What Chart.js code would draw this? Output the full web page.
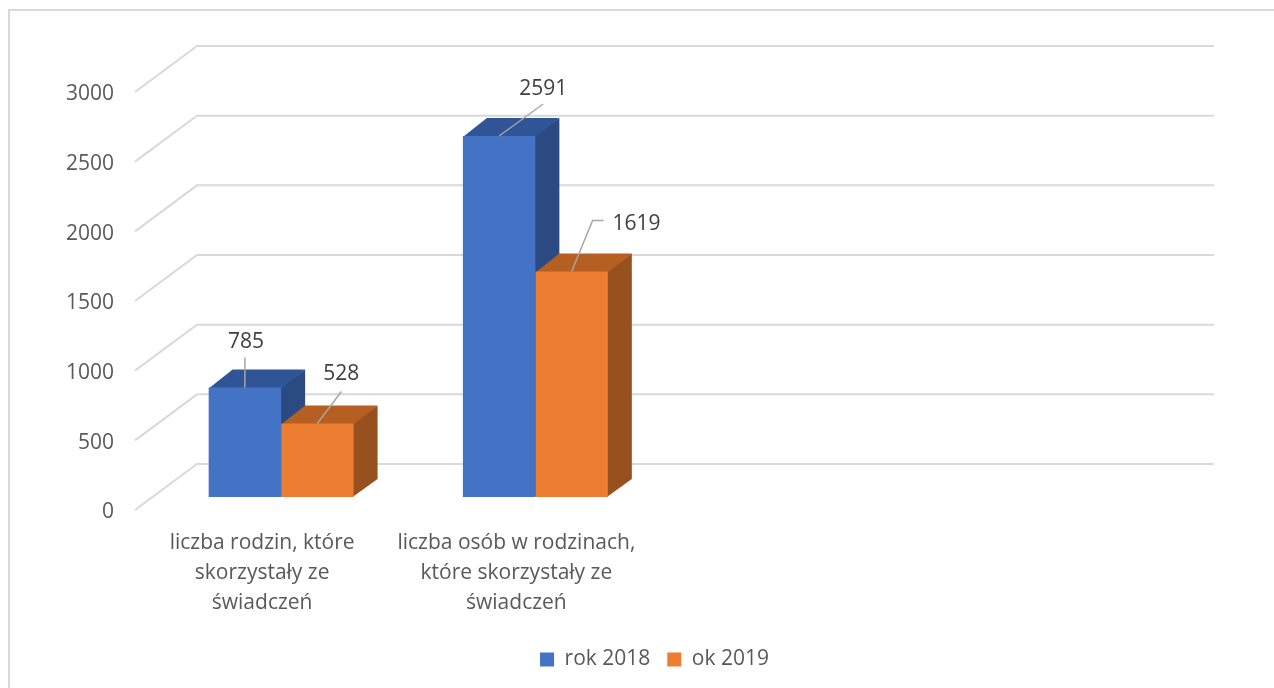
<!DOCTYPE html>
<html lang="pl">
<head>
<meta charset="UTF-8">
<title>Świadczenia 2018-2019</title>
<script src="https://cdn.jsdelivr.net/npm/chart.js"></script>
<style>
    html, body { margin: 0; padding: 0; background: #fff; overflow: hidden; }
    canvas { display: block; }
</style>
</head>
<body>
<canvas id="chart" width="1274" height="688"></canvas>
<script>
// data
const categories = [['liczba rodzin, które', 'skorzystały ze', 'świadczeń'], ['liczba osób w rodzinach,', 'które skorzystały ze', 'świadczeń'], '', ''];
const seriesNames = ['rok 2018', 'ok 2019'];
const values2018 = [785, 2591, null, null];
const values2019 = [528, 1619, null, null];
const yTicks = [0, 500, 1000, 1500, 2000, 2500, 3000];

const frontColors = ['#4472c4', '#ed7d31'];
const sideColors = ['#2b4a82', '#97511e'];
const topColors = ['#2f5597', '#b55f22'];
const textColor = '#595959';
const font = { family: '"Open Sans"', size: 21 };

// 3d look
const wallDepth = { x: 62, y: -46 };
const barShift = { x: 19, y: -13 };
const barDepth = { x: 24, y: -18 };

// leader lines, relative to the top centre of the bar: [dataset][category]
const leaders = [
    [{ pts: [[0, -30], [0, 0]], label: [1, -46] }, { pts: [[0, 0], [44, -32]], label: [44, -47] }],
    [{ pts: [[0, 0], [24, -32]], label: [24, -49] }, { pts: [[0, 0], [21, -51], [32, -51]], label: [65, -47] }]
];

const box3d = {
    id: 'box3d',
    afterLayout(chart) {
        // legend sits right of the canvas centre
        chart.legend.left = 157;
    },
    beforeDatasetsDraw(chart) {
        const { ctx, chartArea: a, scales: { y } } = chart;
        ctx.save();
        // walls
        ctx.strokeStyle = '#d9d9d9';
        ctx.lineWidth = 2;
        yTicks.forEach(t => {
            const py = y.getPixelForValue(t);
            ctx.beginPath();
            ctx.moveTo(a.left, py);
            ctx.lineTo(a.left + wallDepth.x, py + wallDepth.y);
            ctx.lineTo(a.right + wallDepth.x, py + wallDepth.y);
            ctx.stroke();
        });
        // bar sides and tops, fronts are drawn over them by the library
        chart.data.datasets.forEach((ds, i) => {
            chart.getDatasetMeta(i).data.forEach((bar, j) => {
                if (ds.data[j] === null) return;
                const r = bar.x + bar.width / 2 + barShift.x;
                const l = bar.x - bar.width / 2 + barShift.x;
                const t = bar.y + barShift.y;
                const b = bar.base + barShift.y;
                ctx.fillStyle = sideColors[i];
                ctx.beginPath();
                ctx.moveTo(r - 1, t);
                ctx.lineTo(r + barDepth.x, t + barDepth.y);
                ctx.lineTo(r + barDepth.x, b + barDepth.y);
                ctx.lineTo(r - 1, b);
                ctx.fill();
                ctx.fillStyle = topColors[i];
                ctx.beginPath();
                ctx.moveTo(l, t + 1);
                ctx.lineTo(l + barDepth.x, t + barDepth.y);
                ctx.lineTo(r + barDepth.x, t + barDepth.y);
                ctx.lineTo(r, t + 1);
                ctx.fill();
            });
        });
        ctx.restore();
        ctx.save();
        ctx.translate(barShift.x, barShift.y);
    },
    afterDatasetsDraw(chart) {
        const { ctx } = chart;
        ctx.restore();
        ctx.save();
        ctx.font = font.size + 'px ' + font.family;
        ctx.textAlign = 'center';
        ctx.textBaseline = 'middle';
        chart.data.datasets.forEach((ds, i) => {
            chart.getDatasetMeta(i).data.forEach((bar, j) => {
                if (ds.data[j] === null) return;
                const x0 = bar.x + barShift.x;
                const y0 = bar.y + barShift.y;
                const lead = leaders[i][j];
                ctx.strokeStyle = '#a6a6a6';
                ctx.lineWidth = 1.5;
                ctx.beginPath();
                lead.pts.forEach((p, k) => {
                    if (k === 0) ctx.moveTo(x0 + p[0], y0 + p[1]);
                    else ctx.lineTo(x0 + p[0], y0 + p[1]);
                });
                ctx.stroke();
                ctx.fillStyle = '#404040';
                ctx.fillText(ds.data[j], x0 + lead.label[0], y0 + lead.label[1]);
            });
        });
        // outer frame, right and bottom edges are cut off in the original
        ctx.strokeStyle = '#d9d9d9';
        ctx.lineWidth = 2;
        ctx.strokeRect(9, 10, 1300, 700);
        ctx.restore();
    }
};

new Chart(document.getElementById('chart'), {
    type: 'bar',
    data: {
        labels: categories,
        datasets: [
            { label: seriesNames[0], data: values2018, backgroundColor: frontColors[0] },
            { label: seriesNames[1], data: values2019, backgroundColor: frontColors[1] }
        ]
    },
    options: {
        responsive: false,
        animation: false,
        layout: { padding: { top: 92, right: 122, left: 0, bottom: 8 } },
        datasets: { bar: { categoryPercentage: 0.57, barPercentage: 1 } },
        plugins: {
            tooltip: { enabled: false },
            legend: {
                position: 'bottom',
                labels: { color: textColor, font: font, boxWidth: 14, boxHeight: 14, padding: 17 }
            }
        },
        scales: {
            x: {
                grid: { display: false },
                border: { display: false },
                ticks: { color: textColor, font: { family: font.family, size: font.size, lineHeight: 1.43 }, maxRotation: 0, autoSkip: false, padding: 10 },
                afterFit(s) { s.height = 122; }
            },
            y: {
                min: 0,
                max: 3000,
                grid: { display: false },
                border: { display: false },
                ticks: { color: textColor, font: font, stepSize: 500, padding: 13, labelOffset: 2.5, callback: v => String(v) },
                afterFit(s) { s.width = 135; }
            }
        }
    },
    plugins: [box3d]
});
</script>
</body>
</html>
